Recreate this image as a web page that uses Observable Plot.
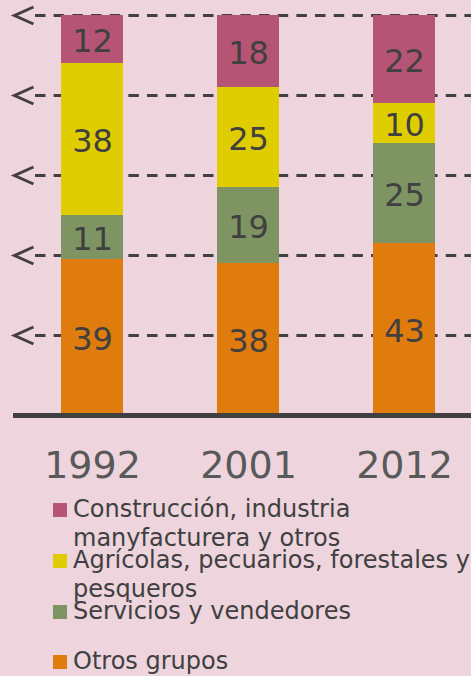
<!DOCTYPE html>
<html>
<head>
<meta charset="utf-8">
<script src="https://cdn.jsdelivr.net/npm/d3@7"></script>
<script src="https://cdn.jsdelivr.net/npm/@observablehq/plot@0.6"></script>
<style>
  html, body { margin: 0; padding: 0; background: #eed4dd; }
  body { width: 471px; height: 676px; overflow: hidden; font-family: "DejaVu Sans", Verdana, sans-serif; }
  #chart svg { display: block; }
  #legend { position: relative; height: 186px; }
  .item { position: absolute; left: 0; width: 471px; }
  .sw { position: absolute; left: 53px; top: 8px; width: 14px; height: 14px; }
  .lb { position: absolute; left: 73px; top: 0; width: 420px; font-size: 24px; line-height: 29px; color: #404040; white-space: normal; }
</style>
</head>
<body>
<div id="chart"></div>
<div id="legend"></div>
<script>
// Data (bottom to top of each stack)
const years = ["1992", "2001", "2012"];
const groups = ["Otros grupos", "Servicios y vendedores", "Agrícolas, pecuarios, forestales y pesqueros", "Construcción, industria manyfacturera y otros"];
const otros = [39, 38, 43];
const servicios = [11, 19, 25];
const agricolas = [38, 25, 10];
const construccion = [12, 18, 22];
const colors = ["#e07b0d", "#7e9462", "#e0cd00", "#b55474"];
const gridTicks = [20, 40, 60, 80, 100];
const legendOrder = [3, 2, 1, 0];

const series = [otros, servicios, agricolas, construccion];
const data = [];
groups.forEach((g, gi) => years.forEach((y, yi) => data.push({year: y, group: g, value: series[gi][yi]})));

const chevron = {
  draw(ctx) {
    ctx.moveTo(20, -8.5);
    ctx.lineTo(1, 0);
    ctx.lineTo(20, 8.5);
  }
};

const plot = Plot.plot({
  width: 471,
  height: 490,
  marginTop: 15,
  marginBottom: 75,
  marginLeft: 13,
  marginRight: 0,
  style: {background: "transparent", fontFamily: "DejaVu Sans, Verdana, sans-serif", fontSize: "38px", color: "#595959", overflow: "visible"},
  x: {domain: years, paddingInner: 0.6, paddingOuter: 0.2586, align: 0.579, tickSize: 0, tickPadding: 36, label: null},
  y: {domain: [0, 100], axis: null},
  color: {domain: groups, range: colors},
  marks: [
    Plot.ruleY(gridTicks, {stroke: "#404040", strokeWidth: 3, strokeDasharray: "10.5,8.17", strokeDashoffset: 10.67, insetLeft: 14}),
    Plot.dot(gridTicks, {y: d => d, frameAnchor: "left", symbol: chevron, r: 5, fill: "none", stroke: "#404040", strokeWidth: 3}),
    Plot.barY(data, {x: "year", y: "value", fill: "group", order: null}),
    Plot.text(data, Plot.stackY({x: "year", y: "value", z: "group", order: null, text: d => String(d.value), fill: "#404040", fontSize: 32, dy: 2})),
    Plot.ruleY([0], {stroke: "#404040", strokeWidth: 5})
  ]
});
document.getElementById("chart").appendChild(plot);

const legend = document.getElementById("legend");
legendOrder.forEach((gi, k) => {
  const item = document.createElement("div");
  item.className = "item";
  item.style.top = (5.2 + 50.67 * k) + "px";
  const sw = document.createElement("div");
  sw.className = "sw";
  sw.style.background = colors[gi];
  const lb = document.createElement("div");
  lb.className = "lb";
  lb.textContent = groups[gi];
  item.appendChild(sw);
  item.appendChild(lb);
  legend.appendChild(item);
});
</script>
</body>
</html>
